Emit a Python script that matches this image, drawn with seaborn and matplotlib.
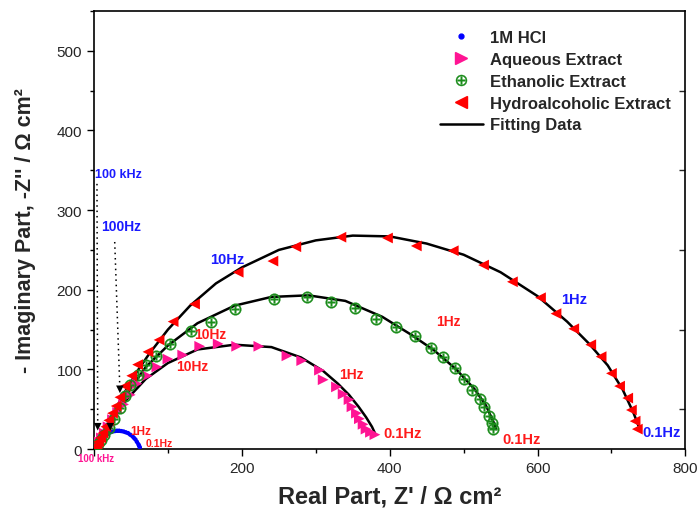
import numpy as np
import pandas as pd
import matplotlib.pyplot as plt
import seaborn as sns
from matplotlib.lines import Line2D
from matplotlib.ticker import MultipleLocator, FixedLocator

# --- data (Z' , -Z'' in ohm cm2) ---
hcl_x = [10, 13, 16, 19, 22, 25, 28, 31, 34, 37, 40, 43, 46, 49, 52, 54, 56, 58, 60, 61, 62]
hcl_y = [10, 14, 17, 19, 21, 22, 22.5, 23, 23, 22.5, 22, 21, 20, 18, 16, 14, 12, 9, 6, 4, 2]

aq_x = [2, 4, 7, 10, 14, 19, 25, 32, 40, 49, 58, 72, 85, 100, 120, 143, 168, 193, 223, 261,
        281, 305, 310, 328, 337, 345, 349, 355, 359, 364, 368, 374, 380]
aq_y = [2, 5, 9, 14, 20, 28, 37, 46, 56, 68, 82, 92, 103, 113, 118, 129, 132, 129, 129, 117,
        111, 99, 87, 78, 69, 62, 53, 45, 38, 31, 25, 21, 18]

eth_x = [2, 5, 9, 14, 20, 27, 35, 42, 49, 59, 70, 84, 103, 131, 158, 191, 243, 288, 320, 353,
         382, 409, 434, 456, 472, 488, 501, 512, 522, 528, 534, 538, 540]
eth_y = [2, 6, 11, 18, 27, 38, 52, 66, 80, 93, 106, 117, 132, 148, 160, 176, 188, 191, 185, 177,
         163, 153, 142, 127, 116, 102, 88, 74, 63, 53, 42, 33, 25]

hyd_x = [2, 4, 6, 9, 12, 16, 20, 25, 30, 35, 42, 51, 59, 73, 88, 107, 136, 195, 242, 273,
         334, 397, 436, 486, 527, 566, 604, 625, 649, 672, 686, 700, 711, 722, 727, 732, 735]
hyd_y = [2, 5, 9, 14, 20, 28, 36, 45, 54, 65, 79, 92, 106, 122, 137, 160, 182, 222, 236, 254,
         266, 265, 255, 249, 231, 210, 190, 170, 151, 131, 116, 95, 79, 64, 49, 35, 25]

# fitted curves
fit_hcl_x = [10, 15, 20, 25, 30, 35, 40, 45, 50, 55, 58, 61, 63]
fit_hcl_y = [12, 17, 20, 21.5, 22, 22, 21.5, 20, 17, 13, 10, 5, 1]
fit_aq_x = [0, 10, 25, 45, 70, 100, 140, 190, 240, 280, 310, 330, 345, 358, 368, 376, 381]
fit_aq_y = [0, 16, 38, 63, 88, 108, 125, 131, 128, 115, 98, 82, 68, 53, 40, 28, 18]
fit_eth_x = [0, 10, 25, 45, 70, 100, 140, 190, 240, 290, 340, 390, 430, 460, 490, 515, 530, 540, 544]
fit_eth_y = [0, 18, 40, 70, 103, 130, 158, 180, 191, 193, 186, 166, 143, 124, 100, 75, 55, 35, 25]
fit_hyd_x = [0, 5, 12, 20, 30, 42, 58, 75, 100, 130, 165, 200, 250, 300, 350, 400, 450, 500,
             550, 600, 640, 670, 695, 715, 730, 737]
fit_hyd_y = [0, 8, 20, 35, 52, 72, 97, 120, 150, 180, 208, 228, 250, 262, 268, 267, 258, 244,
             222, 192, 160, 132, 105, 75, 45, 28]

# dotted guide lines and their end markers
guide1_x = [4, 5]
guide1_y = [333, 28]
guide2_x = [28, 35]
guide2_y = [260, 75]
arrow_x = [5, 35, 22]
arrow_y = [28, 75, 28]

# frequency labels: (text, x, y, colour, size)
freq_labels = [
    ("100 kHz", 2, 345, "#1a1aff", 9),
    ("100Hz", 10, 280, "#1a1aff", 10),
    ("10Hz", 157, 239, "#1a1aff", 10.5),
    ("1Hz", 632, 188, "#1a1aff", 10.5),
    ("0.1Hz", 742, 21, "#1a1aff", 10.5),
    ("10Hz", 136, 144, "#ff1a1a", 10),
    ("10Hz", 111, 104, "#ff1a1a", 10),
    ("1Hz", 463, 161, "#ff1a1a", 10),
    ("1Hz", 332, 94, "#ff1a1a", 10),
    ("0.1Hz", 392, 20, "#ff1a1a", 10.5),
    ("0.1Hz", 553, 12, "#ff1a1a", 10.5),
    ("1Hz", 49, 23, "#ff1a1a", 8.5),
    ("0.1Hz", 70, 7, "#ff1a1a", 7.5),
    ("100 kHz", -22, -11, "#ff1493", 7),
]

x_ticks = [0, 200, 400, 600, 800]
x_ticklabels = ["", "200", "400", "600", "800"]
y_ticks = [0, 100, 200, 300, 400, 500]

sns.set_theme(style="ticks")
plt.rcParams['font.family'] = ['Liberation Sans', 'DejaVu Sans']

c_hcl = "#0000ff"
c_aq = "#ff1493"
c_eth = "#1a8c1a"
c_hyd = "#ff0000"

fig = plt.figure(figsize=(6.99, 5.10), dpi=100)
ax = fig.add_axes([0.1345, 0.1176, 0.846, 0.8588])

# fitting lines
for fx, fy in [(fit_hcl_x, fit_hcl_y), (fit_aq_x, fit_aq_y),
               (fit_eth_x, fit_eth_y), (fit_hyd_x, fit_hyd_y)]:
    sns.lineplot(x=fx, y=fy, sort=False, color="black", lw=1.8, ax=ax, zorder=2)

# dotted guides
for gx, gy in [(guide1_x, guide1_y), (guide2_x, guide2_y)]:
    sns.lineplot(x=gx, y=gy, sort=False, color="black", lw=1.1, ls=(0, (1, 2.5)), ax=ax, zorder=2)
sns.scatterplot(x=arrow_x, y=arrow_y, marker="v", color="black", s=30, ax=ax,
                edgecolor="none", zorder=4)

# measured data
sns.scatterplot(x=hcl_x, y=hcl_y, marker="o", color=c_hcl, s=10, edgecolor="none", ax=ax, zorder=3)
sns.scatterplot(x=aq_x, y=aq_y, marker=">", color=c_aq, s=60, edgecolor="none", ax=ax, zorder=3)
sns.scatterplot(x=eth_x, y=eth_y, marker="$\\oplus$", color=c_eth, s=70, edgecolor=c_eth,
                linewidth=0.25, ax=ax, zorder=3)
sns.scatterplot(x=hyd_x, y=hyd_y, marker="<", color=c_hyd, s=60, edgecolor="none", ax=ax, zorder=3)

for txt, tx, ty, col, fs in freq_labels:
    ax.text(tx, ty, txt, color=col, fontsize=fs, fontweight="bold",
            ha="left", va="center", clip_on=False)

ax.set_xlim(0, 800)
ax.set_ylim(0, 550)
ax.set_xticks(x_ticks)
ax.set_xticklabels(x_ticklabels)
ax.set_yticks(y_ticks)
ax.xaxis.set_minor_locator(MultipleLocator(100))
ax.yaxis.set_minor_locator(MultipleLocator(50))
ax.tick_params(which="major", direction="out", length=5, width=1, labelsize=11, color="black")
ax.tick_params(which="minor", direction="out", length=3, width=1, color="black")

# mirrored inward ticks on the right spine
ax_r = ax.secondary_yaxis("right")
ax_r.yaxis.set_major_locator(FixedLocator([50, 150, 250, 350, 450]))
ax_r.tick_params(direction="in", length=4, width=1, labelright=False)
ax_r.spines["right"].set_visible(False)

for sp in ax.spines.values():
    sp.set_linewidth(1.2)
    sp.set_color("black")

ax.set_xlabel("Real Part, Z' / Ω cm²", fontsize=17, fontweight="bold", labelpad=7)
ax.set_ylabel("- Imaginary Part, -Z'' / Ω cm²", fontsize=15.5, fontweight="bold", labelpad=15)

handles = [
    Line2D([], [], ls="none", marker="o", color=c_hcl, markersize=3.5),
    Line2D([], [], ls="none", marker=">", color=c_aq, markersize=8),
    Line2D([], [], ls="none", marker="$\\oplus$", color=c_eth, markersize=8, markeredgewidth=0.25),
    Line2D([], [], ls="none", marker="<", color=c_hyd, markersize=8),
    Line2D([], [], color="black", lw=1.8),
]
labels = ["1M HCl", "Aqueous Extract", "Ethanolic Extract", "Hydroalcoholic Extract", "Fitting Data"]
ax.legend(handles, labels, loc="upper left", bbox_to_anchor=(0.565, 0.983), frameon=False,
          prop={"weight": "bold", "size": 12}, handlelength=2.6, handletextpad=0.4,
          labelspacing=0.41, numpoints=1, borderaxespad=0.3)

plt.savefig("out.png", dpi=100)
